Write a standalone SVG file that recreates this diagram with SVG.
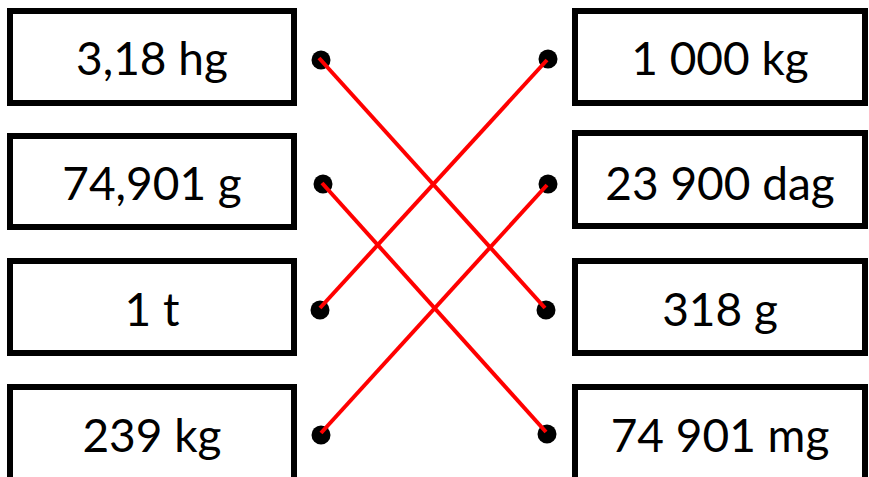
<svg xmlns="http://www.w3.org/2000/svg" width="869" height="477" viewBox="0 0 869 477">
<style>
.box{fill:#fff;stroke:#000;stroke-width:6}
.lbl{font-family:Lato,"Liberation Sans",Arial,sans-serif;font-size:46px;font-weight:400;fill:#000;text-anchor:middle}
.dot{fill:#000}
.con{stroke:#f00;stroke-width:4;fill:none}
</style>
<rect width="869" height="477" fill="#fff"/>
<g id="L1"><rect class="box" x="10" y="11" width="284" height="92"/><text class="lbl" x="152" y="75">3,18 hg</text><circle class="dot" cx="321" cy="60" r="9.5"/></g>
<g id="L2"><rect class="box" x="10" y="136" width="284" height="91"/><text class="lbl" x="152" y="200">74,901 g</text><circle class="dot" cx="323" cy="184" r="9.5"/></g>
<g id="L3"><rect class="box" x="10" y="261" width="284" height="92"/><text class="lbl" x="152" y="326">1 t</text><circle class="dot" cx="320" cy="310" r="9.5"/></g>
<g id="L4"><rect class="box" x="10" y="387" width="284" height="100"/><text class="lbl" x="152" y="452">239 kg</text><circle class="dot" cx="321" cy="435" r="9.5"/></g>
<g id="R1"><rect class="box" x="575" y="11" width="290" height="92"/><text class="lbl" x="720" y="75">1 000 kg</text><circle class="dot" cx="548" cy="59" r="9.5"/></g>
<g id="R2"><rect class="box" x="575" y="133" width="290" height="93"/><text class="lbl" x="720" y="200">23 900 dag</text><circle class="dot" cx="548" cy="184" r="9.5"/></g>
<g id="R3"><rect class="box" x="575" y="261" width="290" height="92"/><text class="lbl" x="720" y="326">318 g</text><circle class="dot" cx="546" cy="310" r="9.5"/></g>
<g id="R4"><rect class="box" x="575" y="387" width="290" height="100"/><text class="lbl" x="720" y="452">74 901 mg</text><circle class="dot" cx="547" cy="434" r="9.5"/></g>
<g id="connectors">
<line class="con" x1="319" y1="58" x2="545" y2="308"/>
<line class="con" x1="322" y1="183" x2="546" y2="432"/>
<line class="con" x1="320" y1="308" x2="547" y2="60"/>
<line class="con" x1="321" y1="433" x2="547" y2="185"/>
</g>
</svg>
